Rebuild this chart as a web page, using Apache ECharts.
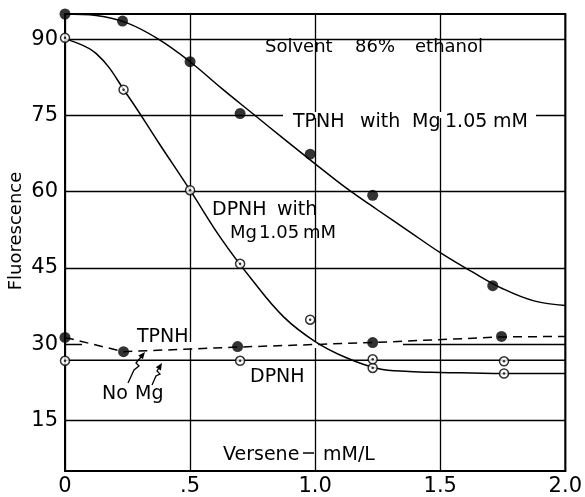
<!DOCTYPE html>
<html>
<head>
<meta charset="utf-8">
<script src="https://cdn.jsdelivr.net/npm/echarts@6/dist/echarts.min.js"></script>
<style>
html,body{margin:0;padding:0;background:#fff;}
#main{width:585px;height:497px;}
</style>
</head>
<body>
<div id="main"></div>
<script>
// measured points: versene mM/L -> fluorescence
var tpnhMgPts = [[0,95],[0.23,93.6],[0.5,85.6],[0.70,75.4],[0.98,67.4],[1.23,59.3],[1.71,41.5]];
var dpnhMgPts = [[0,90.3],[0.234,80.1],[0.5,60.3],[0.70,45.8],[0.98,34.8],[1.23,25.3],[1.755,24.2]];
var tpnhPts = [[0,31.3],[0.234,28.5],[0.69,29.5],[1.23,30.3],[1.745,31.5]];
var dpnhPts = [[0,26.7],[0.70,26.7],[1.23,27.0],[1.755,26.6]];

// hand drawn curves, every .125
var curveX = [0, 0.125, 0.25, 0.375, 0.5, 0.625, 0.75, 0.875, 1.0, 1.125, 1.25, 1.375, 1.5, 1.625, 1.75, 1.875, 2.0];
var tpnhMgCurveY = [95, 94.7, 93.2, 90.0, 85.6, 80.4, 75.4, 70.4, 65.5, 60.7, 56.4, 52.2, 48.0, 44.3, 40.9, 38.5, 37.6];
var dpnhMgCurveY = [90.1, 87.2, 79.0, 69.6, 60.3, 50.7, 42.5, 35.3, 30.5, 27.3, 25.2, 24.6, 24.4, 24.3, 24.2, 24.2, 24.2];
var tpnhLine = [[0,31.3],[0.234,28.5],[0.69,29.4],[1.23,30.3],[1.745,31.4],[2.0,31.5]];
var dpnhLine = [[0,26.8],[2.0,26.8]];

var xTicks = [0, 0.5, 1.0, 1.5, 2.0];
var xTickLabels = ['0', '.5', '1.0', '1.5', '2.0'];
var yTicks = [15, 30, 45, 60, 75, 90];

var FONT = '"DejaVu Sans", sans-serif';

function pairs(xs, ys) {
    var out = [];
    for (var i = 0; i < xs.length; i++) out.push([xs[i], ys[i]]);
    return out;
}
function txt(s, x, y, size) {
    return {
        type: 'text', x: x, y: y, z: 50,
        style: { text: s, fill: '#000', font: size + 'px ' + FONT, align: 'left', verticalAlign: 'middle' }
    };
}
// white strip that hides part of a grid line
function gap(x, y, w, h) {
    return { type: 'rect', z: 1, shape: { x: x, y: y, width: w, height: h }, style: { fill: '#fff' } };
}

var myChart = echarts.init(document.getElementById('main'));
var option = {
    backgroundColor: '#fff',
    animation: false,
    grid: {
        left: 65, right: 17, top: 14, bottom: 24,
        show: true, borderColor: '#000', borderWidth: 2, backgroundColor: 'transparent'
    },
    xAxis: {
        type: 'value', min: 0, max: 2, interval: 0.5,
        axisLine: { show: true, lineStyle: { color: '#000', width: 2 } },
        axisTick: { show: false },
        splitLine: { show: true, lineStyle: { color: '#000', width: 1.3 } },
        axisLabel: {
            color: '#000', fontFamily: FONT, fontSize: 21, margin: 5,
            formatter: function (v) {
                for (var i = 0; i < xTicks.length; i++) {
                    if (Math.abs(xTicks[i] - v) < 1e-6) return xTickLabels[i];
                }
                return '';
            }
        }
    },
    yAxis: {
        type: 'value', min: 5, max: 95,
        axisLine: { show: true, lineStyle: { color: '#000', width: 2 } },
        axisTick: { show: false, customValues: yTicks },
        splitLine: { show: true, lineStyle: { color: '#000', width: 1.3 } },
        axisLabel: { customValues: yTicks, color: '#000', fontFamily: FONT, fontSize: 21, margin: 7 }
    },
    series: [
        {
            type: 'line', data: pairs(curveX, tpnhMgCurveY), smooth: 0.4, showSymbol: false, silent: true,
            lineStyle: { color: '#000', width: 1.5 }, z: 3
        },
        {
            type: 'line', data: pairs(curveX, dpnhMgCurveY), smooth: 0.4, showSymbol: false, silent: true,
            lineStyle: { color: '#000', width: 1.5 }, z: 3
        },
        {
            type: 'line', data: tpnhLine, showSymbol: false, silent: true,
            lineStyle: { color: '#000', width: 1.5, type: [9, 6] }, z: 3
        },
        {
            type: 'line', data: dpnhLine, showSymbol: false, silent: true,
            lineStyle: { color: '#000', width: 1.5 }, z: 3
        },
        {
            type: 'scatter', data: tpnhMgPts.concat(tpnhPts), symbolSize: 11,
            itemStyle: { color: '#000' }, z: 5
        },
        {
            type: 'scatter', data: dpnhMgPts.concat(dpnhPts), symbolSize: 9,
            itemStyle: { color: '#fff', borderColor: '#000', borderWidth: 1.5 }, z: 5
        },
        {
            type: 'scatter', data: dpnhMgPts.concat(dpnhPts), symbolSize: 2.5,
            itemStyle: { color: '#000' }, z: 6
        }
    ],
    graphic: [
        gap(283, 112, 253, 6),
        gap(82, 342, 321, 6),
        txt('Solvent', 265, 47, 18), txt('86%', 355, 47, 18), txt('ethanol', 415, 47, 18),
        txt('TPNH', 293, 122, 19), txt('with', 360, 122, 19), txt('Mg', 412, 122, 19),
        txt('1.05', 445, 122, 19), txt('mM', 493, 122, 19),
        txt('DPNH', 212, 210, 19), txt('with', 277, 210, 19),
        txt('Mg', 230, 233, 18), txt('1.05', 259, 233, 18), txt('mM', 303, 233, 18),
        txt('TPNH', 137, 337, 19),
        txt('No', 102, 394, 19), txt('Mg', 135, 394, 19),
        txt('DPNH', 250, 377, 19),
        txt('Versene', 223, 455, 19), txt('mM/L', 323, 455, 19),
        { type: 'line', shape: { x1: 303, y1: 453, x2: 314, y2: 453 }, style: { stroke: '#000', lineWidth: 1.5 }, z: 50 },
        {
            type: 'text', x: 16, y: 231, rotation: Math.PI / 2, z: 50,
            style: { text: 'Fluorescence', fill: '#000', font: '18px ' + FONT, align: 'center', verticalAlign: 'middle' }
        },
        // "No Mg" arrows
        {
            type: 'polyline', z: 50,
            shape: { points: [[128, 383], [134, 370], [139, 366], [136, 363], [141, 357]] },
            style: { stroke: '#000', lineWidth: 1.3, fill: null }
        },
        {
            type: 'polygon', z: 50,
            shape: { points: [[145, 352], [142.9, 359.3], [138.3, 355.5]] },
            style: { fill: '#000' }
        },
        {
            type: 'polyline', z: 50,
            shape: { points: [[152, 385], [156, 376], [160, 374], [157, 371], [159, 368]] },
            style: { stroke: '#000', lineWidth: 1.3, fill: null }
        },
        {
            type: 'polygon', z: 50,
            shape: { points: [[162, 363], [160.9, 370.5], [155.8, 367.3]] },
            style: { fill: '#000' }
        }
    ]
};
myChart.setOption(option);
</script>
</body>
</html>
